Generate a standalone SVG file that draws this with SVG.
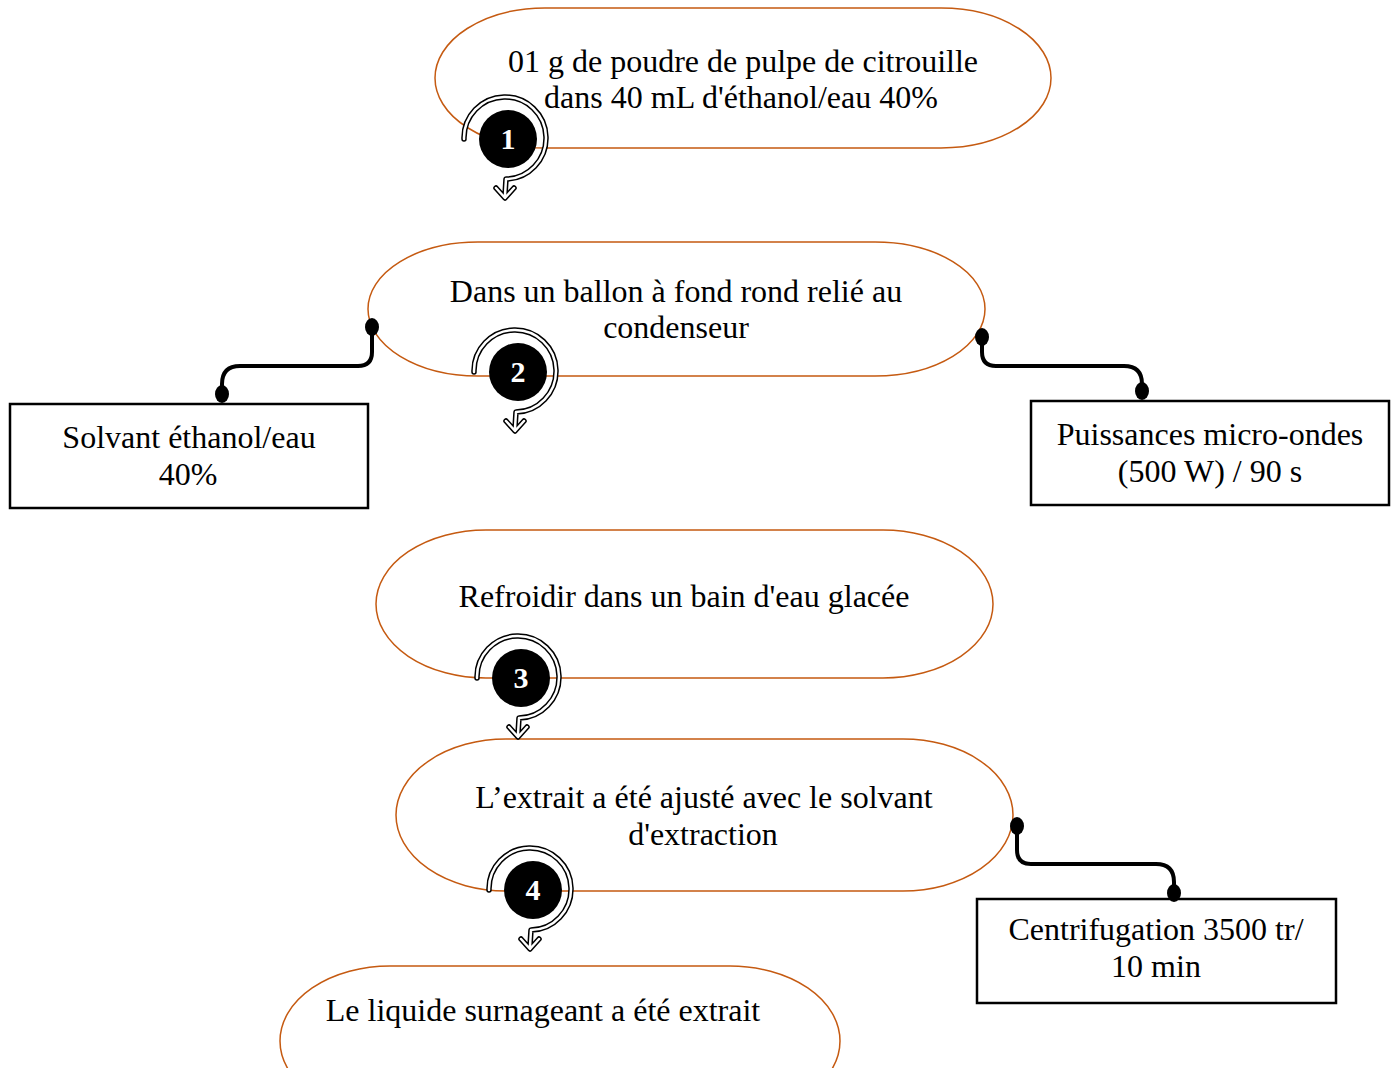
<svg xmlns="http://www.w3.org/2000/svg" width="1397" height="1068" viewBox="0 0 1397 1068">
<defs>
<style>
.st{fill:#fff;stroke:#C55A11;stroke-width:1.5}
.bx{fill:#fff;stroke:#000;stroke-width:2.5}
.t{font-family:"Liberation Serif","Times New Roman",serif;font-size:32px;fill:#000;text-anchor:middle}
.n{font-family:"Liberation Serif","Times New Roman",serif;font-size:30px;font-weight:bold;fill:#fff;text-anchor:middle}
.con{fill:none;stroke:#000;stroke-width:4;stroke-linecap:round}
.ao{fill:none;stroke:#000;stroke-width:5.5;stroke-linecap:round;stroke-linejoin:round}
.ai{fill:none;stroke:#fff;stroke-width:2.5;stroke-linecap:round;stroke-linejoin:round}
</style>
<g id="icon">
<path class="ao" d="M -44,0 A 41 41 0 1 1 -2,40 L -3,56 M -12,49 L -3,59 L 6,49"/>
<path class="ai" d="M -44,0 A 41 41 0 1 1 -2,40 L -3,56 M -12,49 L -3,59 L 6,49"/>
<circle cx="0" cy="0" r="29" fill="#000"/>
</g>
</defs>
<rect width="1397" height="1068" fill="#fff"/>
<g id="n1">
<rect class="st" x="435" y="8" width="616" height="140" rx="110" ry="70"/>
<text class="t" x="743" y="72">01 g de poudre de pulpe de citrouille</text>
<text class="t" x="741" y="108">dans 40 mL d'éthanol/eau 40%</text>
</g>
<g id="n2">
<rect class="st" x="368" y="242" width="617" height="134" rx="110" ry="67"/>
<text class="t" x="676" y="302">Dans un ballon à fond rond relié au</text>
<text class="t" x="676" y="338">condenseur</text>
</g>
<g id="n3">
<rect class="st" x="376" y="530" width="617" height="148" rx="110" ry="74"/>
<text class="t" x="684" y="607">Refroidir dans un bain d'eau glacée</text>
</g>
<g id="n4">
<rect class="st" x="396" y="739" width="617" height="152" rx="110" ry="76"/>
<text class="t" x="704" y="808">L’extrait a été ajusté avec le solvant</text>
<text class="t" x="703" y="845">d'extraction</text>
</g>
<g id="n5">
<rect class="st" x="280" y="966" width="560" height="150" rx="110" ry="75"/>
<text class="t" x="543" y="1021">Le liquide surnageant a été extrait</text>
</g>
<g id="b1">
<rect class="bx" x="10" y="404" width="358" height="104"/>
<text class="t" x="189" y="448">Solvant éthanol/eau</text>
<text class="t" x="188" y="485">40%</text>
</g>
<g id="b2">
<rect class="bx" x="1031" y="401" width="358" height="104"/>
<text class="t" x="1210" y="445">Puissances micro-ondes</text>
<text class="t" x="1210" y="482">(500 W) / 90 s</text>
</g>
<g id="b3">
<rect class="bx" x="977" y="899" width="359" height="104"/>
<text class="t" x="1156" y="940">Centrifugation 3500 tr/</text>
<text class="t" x="1156" y="977">10 min</text>
</g>
<g id="connectors">
<path class="con" d="M 372,330 L 372,352 Q 372,366 358,366 L 240,366 Q 222,366 222,384 L 222,393"/>
<ellipse cx="372" cy="327" rx="7" ry="9"/>
<ellipse cx="222" cy="394" rx="7" ry="9"/>
<path class="con" d="M 982,340 L 982,352 Q 982,366 996,366 L 1124,366 Q 1142,366 1142,384 L 1142,391"/>
<ellipse cx="982" cy="337" rx="7" ry="9"/>
<ellipse cx="1142" cy="391" rx="7" ry="9"/>
<path class="con" d="M 1017,829 L 1017,850 Q 1017,864 1031,864 L 1156,864 Q 1174,864 1174,882 L 1174,892"/>
<ellipse cx="1017" cy="826" rx="7" ry="9"/>
<ellipse cx="1174" cy="893" rx="7" ry="9"/>
</g>
<g id="step1">
<use href="#icon" transform="translate(508,139)"/>
<text class="n" x="508" y="149">1</text>
</g>
<g id="step2">
<use href="#icon" transform="translate(518,372)"/>
<text class="n" x="518" y="382">2</text>
</g>
<g id="step3">
<use href="#icon" transform="translate(521,678)"/>
<text class="n" x="521" y="688">3</text>
</g>
<g id="step4">
<use href="#icon" transform="translate(533,890)"/>
<text class="n" x="533" y="900">4</text>
</g>
</svg>
